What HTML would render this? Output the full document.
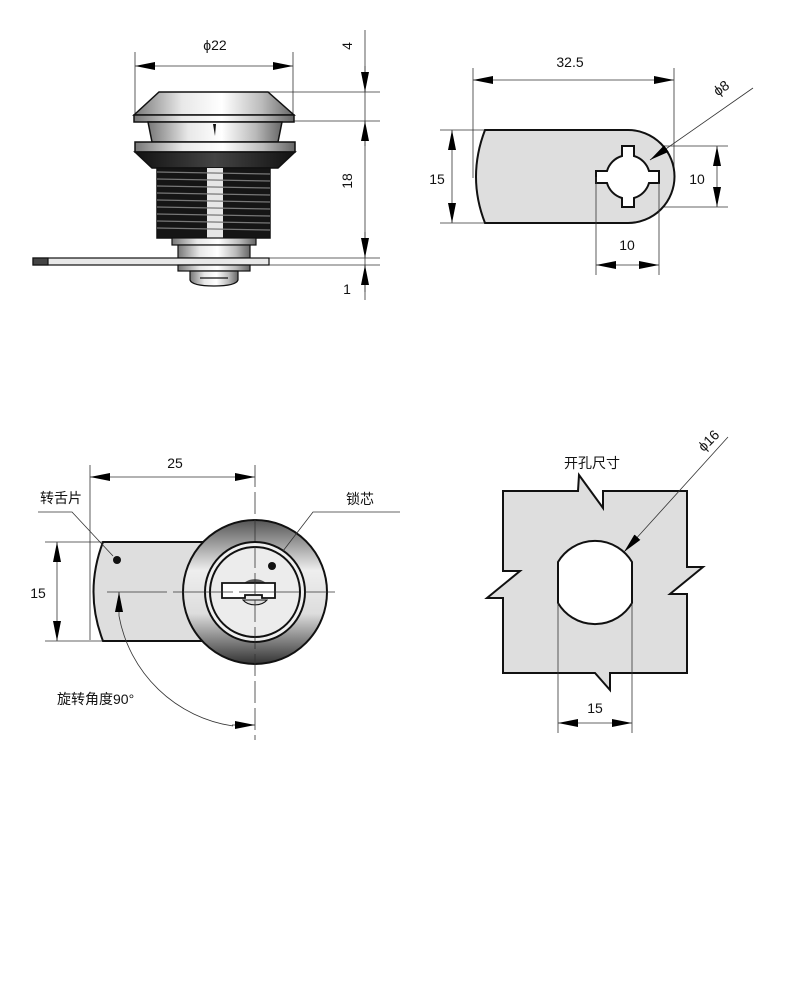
<!DOCTYPE html>
<html><head><meta charset="utf-8"><style>
html,body{margin:0;padding:0;background:#fff;}
svg{display:block;}
text{font-family:"Liberation Sans","Noto Sans CJK SC",sans-serif;fill:#111;}
</style></head><body>
<svg width="788" height="1000" viewBox="0 0 788 1000" xmlns="http://www.w3.org/2000/svg">
<defs>
<marker id="ar" viewBox="0 0 20 8" refX="20" refY="4" markerWidth="20" markerHeight="8" markerUnits="userSpaceOnUse" orient="auto-start-reverse"><path d="M0,0 L20,4 L0,8 Z" fill="#000"/></marker>
<linearGradient id="met" x1="0" x2="1" y1="0" y2="0">
<stop offset="0" stop-color="#777"/><stop offset="0.3" stop-color="#e8e8e8"/><stop offset="0.55" stop-color="#fff"/><stop offset="0.8" stop-color="#bbb"/><stop offset="1" stop-color="#666"/></linearGradient>
<linearGradient id="dark" x1="0" x2="1"><stop offset="0" stop-color="#111"/><stop offset="0.5" stop-color="#444"/><stop offset="1" stop-color="#111"/></linearGradient>
<radialGradient id="ring" cx="0.5" cy="0.5" r="0.5"><stop offset="0.6" stop-color="#f4f4f4"/><stop offset="0.85" stop-color="#bbb"/><stop offset="1" stop-color="#444"/></radialGradient>
<linearGradient id="ring2" x1="0" y1="0" x2="0" y2="1"><stop offset="0" stop-color="#555"/><stop offset="0.35" stop-color="#eee"/><stop offset="0.65" stop-color="#ddd"/><stop offset="1" stop-color="#333"/></linearGradient>
</defs>

<!-- ===== View 1: side view ===== -->
<g stroke="#333" stroke-width="0.8" fill="none">
<line x1="135" y1="52" x2="135" y2="115"/><line x1="293" y1="52" x2="293" y2="115"/>
<line x1="135" y1="66" x2="293" y2="66" marker-start="url(#ar)" marker-end="url(#ar)"/>
<line x1="365" y1="30" x2="365" y2="300"/>
<line x1="268" y1="92" x2="380" y2="92"/><line x1="294" y1="121" x2="380" y2="121"/>
<line x1="268" y1="258" x2="380" y2="258"/><line x1="268" y1="265" x2="380" y2="265"/>
<line x1="365" y1="66" x2="365" y2="92" marker-end="url(#ar)"/>
<line x1="365" y1="146" x2="365" y2="121" marker-end="url(#ar)"/>
<line x1="365" y1="232" x2="365" y2="258" marker-end="url(#ar)"/>
<line x1="365" y1="292" x2="365" y2="265" marker-end="url(#ar)"/>
</g>
<text x="215" y="50" font-size="14" text-anchor="middle">ϕ22</text>
<text x="0" y="0" font-size="14" text-anchor="middle" transform="translate(352,46) rotate(-90)">4</text>
<text x="0" y="0" font-size="14" text-anchor="middle" transform="translate(352,181) rotate(-90)">18</text>
<text x="347" y="294" font-size="14" text-anchor="middle">1</text>

<g stroke="#111" stroke-width="1.5">
<path d="M159,92 L268,92 L294,115 L134,115 Z" fill="url(#met)"/>
<rect x="134" y="115" width="160" height="7" fill="url(#met)"/>
<path d="M148,122 L282,122 L278,142 L152,142 Z" fill="url(#met)"/>
<path d="M213,124 L216,124 L215,136 Z" fill="#111" stroke="none"/>
<rect x="135" y="142" width="160" height="10" fill="url(#met)"/>
<path d="M135,152 L295,152 L278,168 L152,168 Z" fill="url(#dark)"/>
<rect x="157" y="168" width="113" height="70" fill="#151515"/>
<rect x="207" y="168" width="16" height="70" fill="#e6e6e6" stroke="none"/>
</g>
<g stroke="#777" stroke-width="1.2">
<line x1="157" y1="172" x2="270" y2="174"/><line x1="157" y1="179" x2="270" y2="181"/>
<line x1="157" y1="186" x2="270" y2="188"/><line x1="157" y1="193" x2="270" y2="195"/>
<line x1="157" y1="200" x2="270" y2="202"/><line x1="157" y1="207" x2="270" y2="209"/>
<line x1="157" y1="214" x2="270" y2="216"/><line x1="157" y1="221" x2="270" y2="223"/>
<line x1="157" y1="228" x2="270" y2="230"/>
</g>
<g stroke="#111" stroke-width="1.2">
<rect x="172" y="238" width="84" height="7" fill="url(#met)"/>
<rect x="178" y="245" width="72" height="13" fill="url(#met)"/>
<rect x="33" y="258" width="236" height="7" fill="#e8e8e8"/>
<rect x="33" y="258" width="15" height="7" fill="#444"/>
<rect x="178" y="265" width="72" height="6" fill="url(#met)"/>
<path d="M190,271 L238,271 L238,280 Q236,286 214,286 Q192,286 190,280 Z" fill="url(#met)"/>
<line x1="200" y1="278" x2="228" y2="278"/>
</g>

<!-- ===== View 2: tab ===== -->
<g stroke="#333" stroke-width="0.8" fill="none">
<line x1="473" y1="68" x2="473" y2="178"/><line x1="674" y1="68" x2="674" y2="178"/>
<line x1="473" y1="80" x2="674" y2="80" marker-start="url(#ar)" marker-end="url(#ar)"/>
<line x1="440" y1="130" x2="490" y2="130"/><line x1="440" y1="223" x2="490" y2="223"/>
<line x1="452" y1="130" x2="452" y2="223" marker-start="url(#ar)" marker-end="url(#ar)"/>
<line x1="640" y1="146" x2="728" y2="146"/><line x1="640" y1="207" x2="728" y2="207"/>
<line x1="717" y1="146" x2="717" y2="207" marker-start="url(#ar)" marker-end="url(#ar)"/>
</g>
<path d="M485,130 L628,130 A46.5,46.5 0 0 1 628,223 L485,223 Q467,177 485,130 Z" fill="#dedede" stroke="#111" stroke-width="2"/>
<path d="M622,146 L634,146 L634,156 A22,22 0 0 1 649,171 L659,171 L659,183 L649,183 A22,22 0 0 1 634,198 L634,207 L622,207 L622,198 A22,22 0 0 1 607,183 L596,183 L596,171 L607,171 A22,22 0 0 1 622,156 Z" fill="#fff" stroke="#111" stroke-width="2"/>
<g stroke="#333" stroke-width="0.8" fill="none">
<line x1="596" y1="177" x2="596" y2="275"/><line x1="659" y1="183" x2="659" y2="275"/>
<line x1="596" y1="265" x2="659" y2="265" marker-start="url(#ar)" marker-end="url(#ar)"/>
<line x1="753" y1="88" x2="650" y2="160" marker-end="url(#ar)"/>
</g>
<text x="570" y="67" font-size="14" text-anchor="middle">32.5</text>
<text x="437" y="184" font-size="14" text-anchor="middle">15</text>
<text x="697" y="184" font-size="14" text-anchor="middle">10</text>
<text x="627" y="250" font-size="14" text-anchor="middle">10</text>
<text x="0" y="0" font-size="14" text-anchor="middle" transform="translate(724,92) rotate(-35)">ϕ8</text>

<!-- ===== View 3: front ===== -->
<g stroke="#333" stroke-width="0.8" fill="none">
<line x1="90" y1="465" x2="90" y2="640"/>
<line x1="90" y1="477" x2="255" y2="477" marker-start="url(#ar)" marker-end="url(#ar)"/>
<line x1="45" y1="542" x2="110" y2="542"/><line x1="45" y1="641" x2="110" y2="641"/>
<line x1="57" y1="542" x2="57" y2="641" marker-start="url(#ar)" marker-end="url(#ar)"/>
</g>
<path d="M103,542 L210,542 L210,641 L103,641 Q84,592 103,542 Z" fill="#dedede" stroke="#111" stroke-width="2"/>
<circle cx="117" cy="560" r="4" fill="#111"/>
<circle cx="255" cy="592" r="72" fill="url(#ring2)" stroke="#111" stroke-width="2"/>
<circle cx="255" cy="592" r="50" fill="#f0f0f0" stroke="#111" stroke-width="2"/>
<circle cx="255" cy="592" r="45" fill="#ececec" stroke="#111" stroke-width="2"/>
<circle cx="272" cy="566" r="4" fill="#111"/>
<path d="M243,584 A14,10 0 0 1 267,584 Z" fill="#555"/>
<path d="M243,600 A14,10 0 0 0 267,600 Z" fill="#ddd" stroke="#111" stroke-width="1"/>
<path d="M222,583 L275,583 L275,598 L262,598 L262,595 L245,595 L245,598 L222,598 Z" fill="#fff" stroke="#111" stroke-width="1.8"/>
<g stroke="#333" stroke-width="0.8" fill="none">
<line x1="255" y1="465" x2="255" y2="740" stroke-dasharray="22,5"/>
<line x1="107" y1="592" x2="335" y2="592" stroke-dasharray="60,6"/>
<polyline points="38,512 72,512 113,556"/>
<polyline points="400,512 313,512 283,551"/>
<path d="M119,616 A136,136 0 0 0 233,726"/>
<line x1="119" y1="616" x2="119" y2="592" marker-end="url(#ar)"/>
<line x1="232" y1="725" x2="255" y2="725" marker-end="url(#ar)"/>
</g>
<text x="175" y="468" font-size="14" text-anchor="middle">25</text>
<text x="38" y="598" font-size="14" text-anchor="middle">15</text>
<text x="61" y="503" font-size="14" text-anchor="middle">转舌片</text>
<text x="360" y="504" font-size="14" text-anchor="middle">锁芯</text>
<text x="57" y="704" font-size="14">旋转角度90°</text>

<!-- ===== View 4: cutout ===== -->
<path d="M503,491 L578,491 L579,475 L603,508 L603,491 L687,491 L687,567 L703,567 L670,594 L687,594 L687,673 L610,673 L610,690 L595,673 L503,673 L503,598 L487,598 L520,571 L503,571 Z" fill="#dedede" stroke="#111" stroke-width="2"/>
<path d="M558,562 A43,43 0 0 1 632,562 L632,603 A43,43 0 0 1 558,603 Z" fill="#fff" stroke="#111" stroke-width="2"/>
<g stroke="#333" stroke-width="0.8" fill="none">
<line x1="558" y1="603" x2="558" y2="733"/><line x1="632" y1="603" x2="632" y2="733"/>
<line x1="558" y1="723" x2="632" y2="723" marker-start="url(#ar)" marker-end="url(#ar)"/>
<line x1="728" y1="437" x2="624" y2="552" marker-end="url(#ar)"/>
</g>
<text x="592" y="468" font-size="14" text-anchor="middle">开孔尺寸</text>
<text x="595" y="713" font-size="14" text-anchor="middle">15</text>
<text x="0" y="0" font-size="14" text-anchor="middle" transform="translate(712,444) rotate(-45)">ϕ16</text>
</svg>
</body></html>
